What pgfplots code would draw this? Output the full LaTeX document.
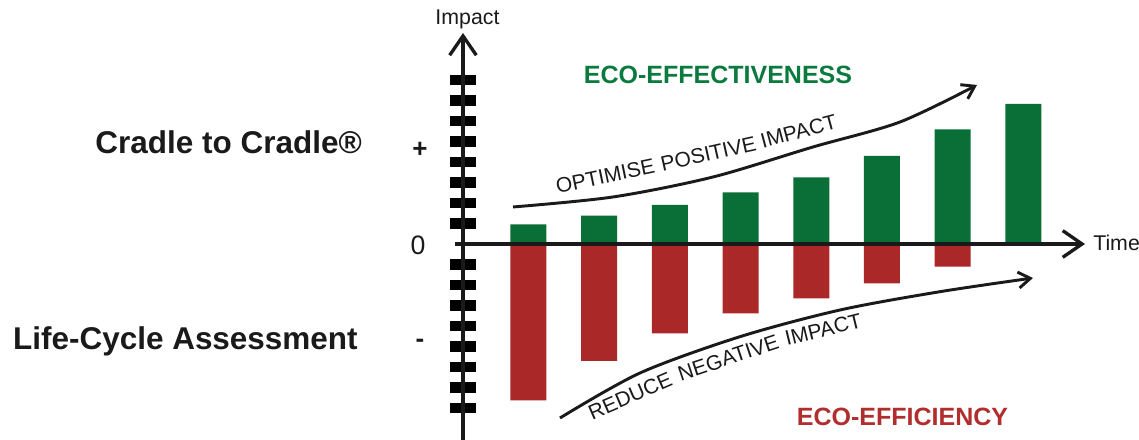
\documentclass[border=0pt]{standalone}
\usepackage{pgfplots}
\pgfplotsset{compat=1.18}
\usepackage{fontspec}
\setmainfont{Liberation Sans}
\usetikzlibrary{arrows.meta}

\definecolor{ecogreen}{HTML}{0A6E37}
\definecolor{ecored}{HTML}{AA2828}
\definecolor{txtgreen}{HTML}{0B7A3E}
\definecolor{txtred}{HTML}{B22D2D}
\definecolor{ink}{HTML}{1A1A1A}

% 1 px of the reference = 0.75pt; x in px from the impact axis, y in tick steps
\newcommand\sidefont{\fontsize{23.6pt}{26pt}\selectfont\bfseries\color{ink}}
\newcommand\ecofont{\fontsize{18.75pt}{21pt}\selectfont\bfseries}
\newcommand\curvefont{\fontsize{15.75pt}{18pt}\selectfont}
\tikzset{word/.style={anchor=base, inner sep=0pt, ink, font=\curvefont}}

\begin{document}
\begin{tikzpicture}
\begin{axis}[
  x=0.75pt, y=15.375pt,
  xmin=-8, xmax=622,
  ymin=-9.561, ymax=10.293,
  axis lines=middle,
  axis on top,
  clip=false,
  enlargelimits=false,
  axis line style={line width=2.5pt, ink,
    -{Straight Barb[length=14.5pt, width=20pt, line width=2.5pt]}},
  xtick=\empty,
  ytick={-8,-7,-6,-5,-4,-3,-2,-1,1,2,3,4,5,6,7,8},
  yticklabels={,,},
  tick align=center,
  major tick length=19.2pt,
  major tick style={line width=8pt, black},
]
% positive impact (eco-effectiveness)
\addplot[ybar, bar width=27pt, bar shift=0pt, fill=ecogreen, draw=none] coordinates {
(65.5,0.961) (136.2,1.380) (206.9,1.902) (277.6,2.522)
(348.3,3.254) (419.0,4.293) (489.7,5.595) (560.4,6.829)
};
% negative impact (eco-efficiency)
\addplot[ybar, bar width=27pt, bar shift=0pt, fill=ecored, draw=none] coordinates {
(65.5,-7.624) (136.2,-5.707) (206.9,-4.366) (277.6,-3.390)
(348.3,-2.659) (419.0,-1.917) (489.7,-1.107)
};

% trend arrows
\addplot[smooth, no marks, line width=2.2pt, ink,
  -{Straight Barb[length=9pt, width=12pt, line width=2.2pt]}] coordinates {
(50,1.805) (150,2.293) (250,3.268) (350,4.732) (437,5.951) (514,7.756)
};
\addplot[smooth, no marks, line width=2.2pt, ink,
  -{Straight Barb[length=9pt, width=12pt, line width=2.2pt]}] coordinates {
(97,-8.488) (177,-6.293) (277,-4.522) (377,-3.220) (477,-2.327) (570,-1.659)
};

% captions following the arrows, one word at a time
\node[word, rotate=11.7] at (axis cs:143.7,2.961) {OPTIMISE};
\node[word, rotate=12.6] at (axis cs:247,4.059) {POSITIVE};
\node[word, rotate=15] at (axis cs:337.5,5.15) {IMPACT};
\node[word, rotate=23.6] at (axis cs:170,-7.75) {REDUCE};
\node[word, rotate=18.4] at (axis cs:267.5,-5.89) {NEGATIVE};
\node[word, rotate=13.7] at (axis cs:362,-4.51) {IMPACT};

% labels
\node[anchor=base, inner sep=0pt, ink, font=\fontsize{16pt}{18pt}\selectfont]
  at (axis cs:4.5,10.683) {Impact};
\node[anchor=base west, inner sep=0pt, ink, font=\fontsize{16pt}{18pt}\selectfont]
  at (axis cs:630,-0.327) {Time};
\node[inner sep=0pt, ink, font=\fontsize{19.5pt}{22pt}\selectfont\bfseries]
  at (axis cs:-43,4.585) {+};
\node[inner sep=0pt, ink, font=\fontsize{20pt}{22pt}\selectfont]
  at (axis cs:-45,-0.05) {0};
\node[inner sep=0pt, ink, font=\fontsize{19.5pt}{22pt}\selectfont\bfseries]
  at (axis cs:-43,-4.83) {-};
\node[anchor=base east, inner sep=0pt, font=\sidefont]
  at (axis cs:-101,4.424) {Cradle to Cradle®};
\node[anchor=base east, inner sep=0pt, font=\sidefont]
  at (axis cs:-105,-5.171) {Life-Cycle Assessment};
\node[anchor=base, inner sep=0pt, txtgreen, font=\ecofont]
  at (axis cs:255,7.839) {ECO-EFFECTIVENESS};
\node[anchor=base, inner sep=0pt, txtred, font=\ecofont]
  at (axis cs:439.5,-8.863) {ECO-EFFICIENCY};

\coordinate (bbTL) at (axis cs:-463,11.902);
\coordinate (bbBR) at (axis cs:676,-9.561);
\end{axis}
\pgfresetboundingbox
\path[use as bounding box] (bbTL) rectangle (bbBR);
\end{tikzpicture}
\end{document}
